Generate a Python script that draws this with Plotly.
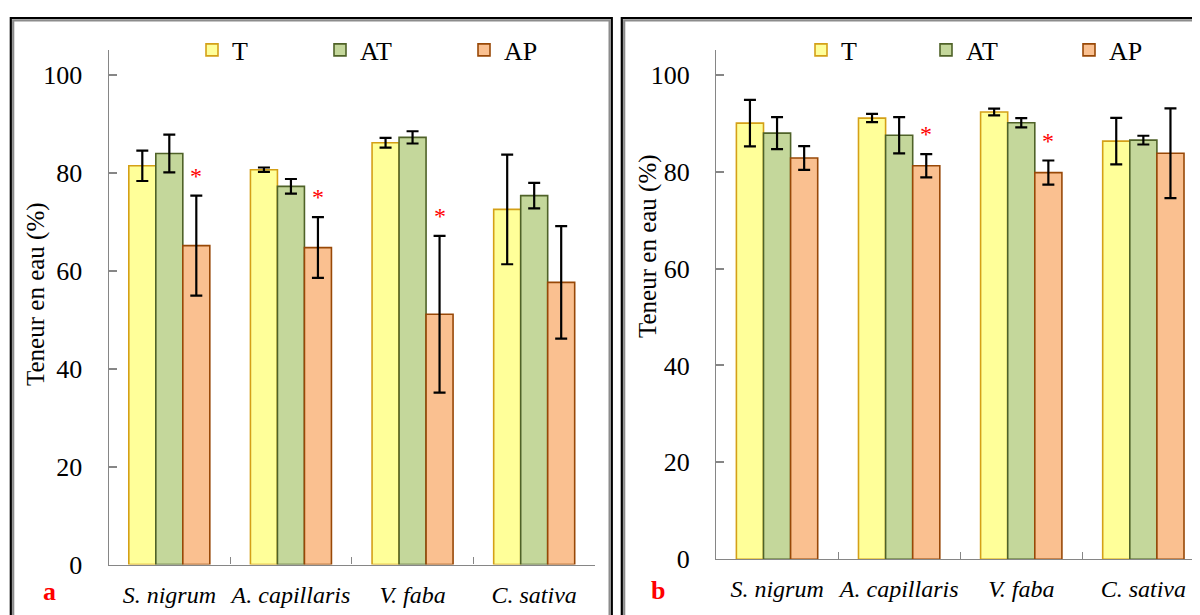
import plotly.graph_objects as go

# ---------------- data ----------------
categories = ["S. nigrum", "A. capillaris", "V. faba", "C. sativa"]
series_names = ["T", "AT", "AP"]

# panel a
a_T = [81.4, 80.6, 86.1, 72.5]
a_T_err = [3.1, 0.45, 1.0, 11.2]
a_AT = [83.9, 77.2, 87.2, 75.3]
a_AT_err = [3.85, 1.5, 1.25, 2.6]
a_AP = [65.1, 64.7, 51.1, 57.6]
a_AP_err = [10.2, 6.2, 16.0, 11.5]
a_sig = [True, True, True, False]

# panel b
b_T = [90.0, 91.05, 92.3, 86.3]
b_T_err = [4.8, 0.85, 0.7, 4.8]
b_AT = [87.95, 87.5, 90.1, 86.5]
b_AT_err = [3.3, 3.75, 0.95, 0.9]
b_AP = [82.8, 81.2, 79.8, 83.8]
b_AP_err = [2.45, 2.4, 2.5, 9.25]
b_sig = [False, True, True, False]

y_ticks = [0, 20, 40, 60, 80, 100]
y_title = "Teneur en eau (%)"
panel_labels = ["a", "b"]

# ---------------- style ----------------
fills = ["#FFFF99", "#C4D79B", "#FAC090"]
edges = ["#D4A017", "#4F6228", "#984807"]
SERIF = "Liberation Serif"
W, H = 1200, 615
OFF = 8  # page body margin

def px_x(p):
    return (p - OFF) / W

def px_y(p):
    return 1 - (p - OFF) / H

fig = go.Figure()

panels = [
    dict(vals=[a_T, a_AT, a_AP], errs=[a_T_err, a_AT_err, a_AP_err], sig=a_sig,
         xa="x", ya="y", legends=["legend", "legend2", "legend3"]),
    dict(vals=[b_T, b_AT, b_AP], errs=[b_T_err, b_AT_err, b_AP_err], sig=b_sig,
         xa="x2", ya="y2", legends=["legend4", "legend5", "legend6"]),
]

for p in panels:
    for i, name in enumerate(series_names):
        fig.add_trace(go.Bar(
            x=categories, y=p["vals"][i], name=name,
            xaxis=p["xa"], yaxis=p["ya"], legend=p["legends"][i],
            marker=dict(color=fills[i], line=dict(color=edges[i], width=1.6)),
            error_y=dict(type="data", array=p["errs"][i], visible=True,
                         color="black", thickness=2.2, width=6),
        ))
    # significance stars above AP bars
    ap, ap_err = p["vals"][2], p["errs"][2]
    for c, v, e, s in zip(categories, ap, ap_err, p["sig"]):
        if s:
            fig.add_annotation(x=c, y=v + e + 4.1, xref=p["xa"], yref=p["ya"],
                               text="*", showarrow=False, xshift=27, yshift=0,
                               font=dict(family=SERIF, size=24, color="red"))

axis_common = dict(showgrid=False, zeroline=False, showline=True,
                   linecolor="#868686", linewidth=1.2, automargin=False)

xfont = dict(family=SERIF, size=24, color="black", style="italic")
yfont = dict(family=SERIF, size=26, color="black")

fig.update_layout(
    xaxis=dict(domain=[px_x(108.5), px_x(595)], anchor="y", type="category",
               range=[-0.5, 3.5], tickson="boundaries", ticks="inside",
               ticklen=7, tickwidth=1.2, tickcolor="#868686", tickangle=0,
               ticklabelstandoff=9, tickfont=xfont, **axis_common),
    yaxis=dict(domain=[px_y(564.5), px_y(50)], anchor="x", range=[0, 105.04],
               tickvals=y_ticks, ticks="inside", ticklen=8, tickwidth=2,
               tickcolor="#868686", ticklabelstandoff=20, tickfont=yfont,
               **axis_common),
    xaxis2=dict(domain=[px_x(716), 1.0], anchor="y2", type="category",
                range=[-0.5, -0.5 + (W + OFF - 716) / 122.1], tickson="boundaries",
                ticks="inside", ticklen=7, tickwidth=1.2, tickcolor="#868686",
                tickangle=0, ticklabelstandoff=8, tickfont=xfont, **axis_common),
    yaxis2=dict(domain=[px_y(559.3), px_y(50)], anchor="x2", range=[0, 105.1],
                tickvals=y_ticks, ticks="inside", ticklen=8, tickwidth=2,
                tickcolor="#868686", ticklabelstandoff=20, tickfont=yfont,
                **axis_common),
)

# legends: one per entry, placed like the original
leg_pos = [(px_x(192), "legend"), (px_x(320), "legend2"), (px_x(464), "legend3"),
           (px_x(801), "legend4"), (px_x(926), "legend5"), (px_x(1069), "legend6")]
for xpos, key in leg_pos:
    fig.update_layout({key: dict(x=xpos, y=px_y(50), xref="paper", yref="paper",
                                 xanchor="left", yanchor="middle",
                                 bgcolor="rgba(0,0,0,0)", borderwidth=0,
                                 font=dict(family=SERIF, size=26, color="black"),
                                 orientation="h")})

# y titles and panel letters
for (tx, ty) in [(36, 294), (648, 246)]:
    fig.add_annotation(x=px_x(tx), y=px_y(ty), xref="paper", yref="paper",
                       text=y_title, textangle=-90, showarrow=False,
                       xanchor="center", yanchor="middle",
                       font=dict(family=SERIF, size=25, color="black"))
for lab, (lx, ly) in zip(panel_labels, [(49, 591), (658, 590)]):
    fig.add_annotation(x=px_x(lx), y=px_y(ly), xref="paper", yref="paper",
                       text="<b>%s</b>" % lab, showarrow=False,
                       xanchor="center", yanchor="middle",
                       font=dict(family=SERIF, size=26, color="red"))

# panel frames (double border: black outside, grey inside)
frames = [
    (10.8, 18, 611.8, 640, "black"), (13.2, 20.4, 609.6, 640, "#8C8C8C"),
    (621.8, 18, 1230, 640, "black"), (624.2, 20.4, 1230, 640, "#8C8C8C"),
]
for x0, y0, x1, y1, col in frames:
    fig.add_shape(type="rect", xref="paper", yref="paper",
                  x0=px_x(x0), x1=px_x(x1), y0=px_y(y0), y1=px_y(y1),
                  line=dict(color=col, width=2.2), fillcolor="rgba(0,0,0,0)",
                  layer="above")

fig.update_layout(
    width=W, height=H, autosize=False,
    margin=dict(l=0, r=0, t=0, b=0, autoexpand=False),
    paper_bgcolor="white", plot_bgcolor="white",
    barmode="group", bargap=0.334, bargroupgap=0,
    showlegend=True,
)

fig.write_html("out.html")
